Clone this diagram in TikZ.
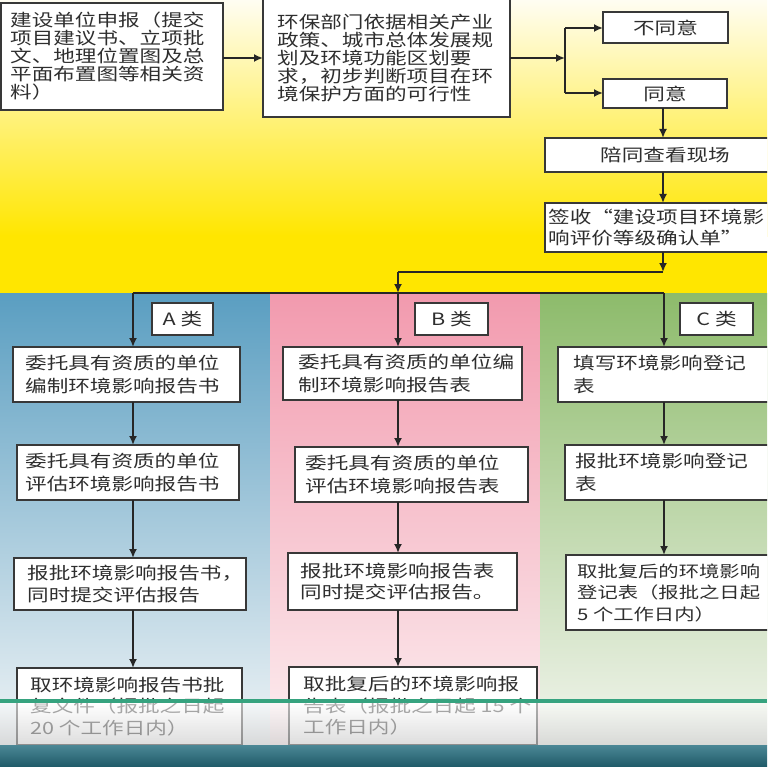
\documentclass[tikz,border=0pt]{standalone}
\usepackage{fontspec}
\newfontfamily\cjk[FakeStretch=1.27]{Noto Sans CJK SC}
\usetikzlibrary{arrows.meta}
\definecolor{ylwA}{HTML}{FFFDF2}
\definecolor{ylwB}{HTML}{FFE600}
\definecolor{bluT}{HTML}{5A9EC1}
\definecolor{bluB}{HTML}{F0F4F6}
\definecolor{pnkT}{HTML}{F29AAE}
\definecolor{pnkB}{HTML}{FCEEF0}
\definecolor{grnT}{HTML}{8DBB6B}
\definecolor{grnB}{HTML}{F2F5EE}
\definecolor{gline}{HTML}{36A37F}
\definecolor{bandT}{HTML}{4B8795}
\definecolor{bandB}{HTML}{1F5A68}
\definecolor{txtc}{HTML}{2E2E2E}
% style, name, x1, y1, x2, y2, pad, text
\newcommand\flowbox[8]{%
  \node[boxsty, minimum width={#5-#3}, minimum height={#6-#4}] (#2) at (#3,#4) {};
  \node[#1] (#2t) at ([xshift=#7pt]#2.west) {#8};}
% name, x1, y1, x2, y2, text (centred)
\newcommand\cenbox[6]{%
  \node[boxsty, minimum width={#4-#2}, minimum height={#5-#3}] (#1) at (#2,#3) {};
  \node[txtS, anchor=center] (#1t) at (#1.center) {#6};}
\begin{document}
\begin{tikzpicture}[x=1pt,y=-1pt,
  boxsty/.style={draw=black!78, fill=white, line width=1.4pt, inner sep=0pt, outer sep=0pt, anchor=north west},
  txtS/.style={font=\cjk\fontsize{17}{18}\selectfont, text=txtc, align=left, inner sep=0pt, anchor=west},
  txtC/.style={font=\cjk\fontsize{17}{22.5}\selectfont, text=txtc, align=left, inner sep=0pt, anchor=west},
  txtT/.style={font=\cjk\fontsize{17}{21.5}\selectfont, text=txtc, align=left, inner sep=0pt, anchor=west},
  txtN/.style={font=\cjk\fontsize{16}{21.5}\selectfont, text=txtc, align=left, inner sep=0pt, anchor=west},
  arr/.style={draw=black!85, line width=1.8pt, -{Latex[length=9pt,width=8pt]}},
  ln/.style={draw=black!85, line width=1.8pt}]
\useasboundingbox (0,0) rectangle (767,767);
\clip (0,0) rectangle (767,767);
% backgrounds
\shade[top color=ylwA, bottom color=ylwB] (0,0) rectangle (767,236);
\fill[ylwB] (0,235) rectangle (767,293);
\shade[top color=bluT, bottom color=bluB] (0,293) rectangle (270,745);
\shade[top color=pnkT, bottom color=pnkB] (270,293) rectangle (540,745);
\shade[top color=grnT, bottom color=grnB] (540,293) rectangle (767,745);

% coordinates for junctions
\coordinate (j1) at (565,58);
\coordinate (jt) at (565,28);
\coordinate (jb) at (565,93);
\coordinate (k1) at (663,272);
\coordinate (k2) at (398,272);
\coordinate (k3) at (398,293);
\coordinate (ca) at (133,293);
\coordinate (cb) at (398,293);
\coordinate (cc) at (664,293);

% top boxes
\flowbox{txtS}{s1}{1}{3}{223}{110}{9}{建设单位申报（提交\\项目建议书、立项批\\文、地理位置图及总\\平面布置图等相关资\\料）}
\flowbox{txtS}{s2}{263}{-1}{510}{117}{14}{环保部门依据相关产业\\政策、城市总体发展规\\划及环境功能区划要\\求，初步判断项目在环\\境保护方面的可行性}
\cenbox{no}{603}{12}{728}{43}{不同意}
\cenbox{yes}{603}{79}{727}{108}{同意}
\cenbox{visit}{545}{138}{785}{172}{陪同查看现场}
\flowbox{txtT}{sign}{545}{203}{785}{252}{3}{签收“建设项目环境影\\响评价等级确认单”}

% top connectors
\draw[arr] (s1.east |- 0,58) -- (s2.west |- 0,58);
\draw[arr] (s2.east |- j1) -- (j1);
\draw[ln] (jt) -- (jb);
\draw[arr] (jt) -- (no.west |- jt);
\draw[arr] (jb) -- (yes.west |- jb);
\draw[arr] (yes.south -| k1) -- (visit.north -| k1);
\draw[arr] (visit.south -| k1) -- (sign.north -| k1);
\draw[arr] (sign.south -| k1) -- (k1);
\draw[ln] (k1) -- (k2);
\draw[arr] (k2) -- (k3);
\draw[ln] (ca) -- (cc);

% category labels
\cenbox{la}{152}{303}{213}{335}{A 类}
\cenbox{lb}{415}{303}{488}{335}{B 类}
\cenbox{lc}{680}{303}{753}{335}{C 类}

% column A
\flowbox{txtC}{a1}{13}{347}{240}{402}{12}{委托具有资质的单位\\编制环境影响报告书}
\flowbox{txtC}{a2}{17}{445}{239}{500}{8}{委托具有资质的单位\\评估环境影响报告书}
\flowbox{txtT}{a3}{14}{558}{246}{610}{13}{报批环境影响报告书，\\同时提交评估报告}
\flowbox{txtT}{a4}{17}{668}{242}{745}{13}{取环境影响报告书批\\复文件（报批之日起\\20 个工作日内）}
% column B
\flowbox{txtC}{b1}{283}{347}{522}{400}{15}{委托具有资质的单位编\\制环境影响报告表}
\flowbox{txtC}{b2}{295}{447}{528}{502}{10}{委托具有资质的单位\\评估环境影响报告表}
\flowbox{txtT}{b3}{288}{553}{517}{610}{12}{报批环境影响报告表\\同时提交评估报告。}
\flowbox{txtT}{b4}{289}{667}{537}{745}{14}{取批复后的环境影响报\\告表（报批之日起 15 个\\工作日内）}
% column C
\flowbox{txtC}{c1}{558}{347}{785}{402}{15}{填写环境影响登记\\表}
\flowbox{txtC}{c2}{565}{445}{785}{500}{10}{报批环境影响登记\\表}
\flowbox{txtN}{c3}{566}{555}{785}{630}{11}{取批复后的环境影响\\登记表（报批之日起\\5 个工作日内）}

% column connectors
\draw[arr] (ca) -- (ca |- a1.north);
\draw[arr] (ca |- a1.south) -- (ca |- a2.north);
\draw[arr] (ca |- a2.south) -- (ca |- a3.north);
\draw[arr] (ca |- a3.south) -- (ca |- a4.north);
\draw[arr] (cb) -- (cb |- b1.north);
\draw[arr] (cb |- b1.south) -- (cb |- b2.north);
\draw[arr] (cb |- b2.south) -- (cb |- b3.north);
\draw[arr] (cb |- b3.south) -- (cb |- b4.north);
\draw[arr] (cc) -- (cc |- c1.north);
\draw[arr] (cc |- c1.south) -- (cc |- c2.north);
\draw[arr] (cc |- c2.south) -- (cc |- c3.north);

% bottom overlays
\shade[top color=white, bottom color=black!22, opacity=0.6] (0,703) rectangle (767,745);
\fill[gline] (0,699) rectangle (767,703);
\shade[top color=bandT, bottom color=bandB] (0,745) rectangle (767,767);
\end{tikzpicture}
\end{document}
